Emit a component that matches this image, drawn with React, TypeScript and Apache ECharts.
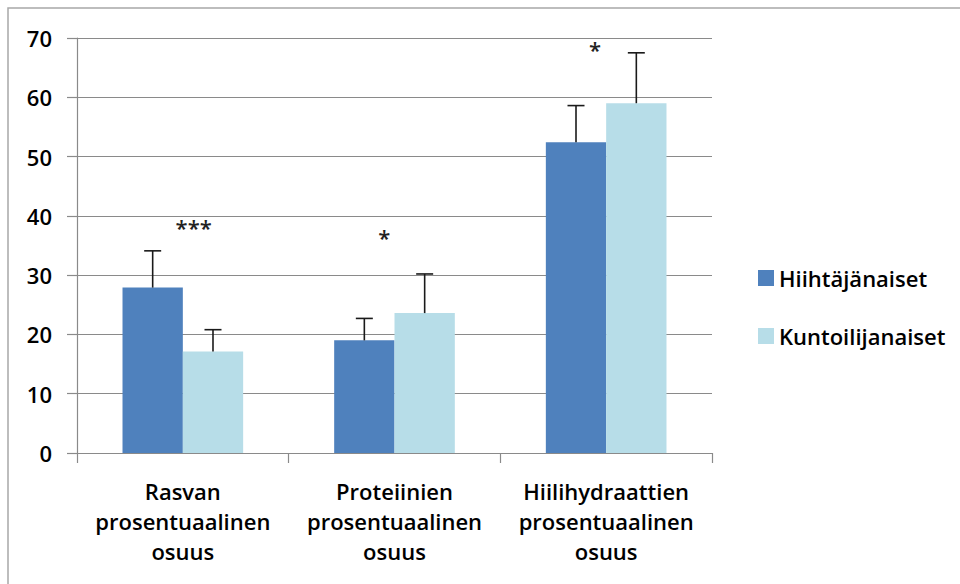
import React, { useEffect, useRef } from "react";
import * as echarts from "echarts";

// Macronutrient shares (% of energy intake), mean and SD for each group
const categories = [
  "Rasvan\nprosentuaalinen\nosuus",
  "Proteiinien\nprosentuaalinen\nosuus",
  "Hiilihydraattien\nprosentuaalinen\nosuus",
];
const seriesNames = ["Hiihtäjänaiset", "Kuntoilijanaiset"];
const skierMeans = [27.9, 19.0, 52.4];
const skierSD = [6.2, 3.7, 6.2];
const exerciserMeans = [17.1, 23.6, 59.0];
const exerciserSD = [3.7, 6.6, 8.5];
const yTicks = { min: 0, max: 70, interval: 10 };

// Significance markers: category index, y value, horizontal nudge in px
// (markPoint on a bar series is anchored at that series' bar centre)
const sigMarks = [
  { cat: 0, y: 38.1, text: "***", dx: 41 },
  { cat: 1, y: 36.5, text: "*", dx: 20 },
  { cat: 2, y: 68.1, text: "*", dx: 19 },
];

const colors = ["#4f81bd", "#b7dde8"];
const gridColor = "#8a8a8a";
const fontFamily = "'Open Sans', sans-serif";
const CATEGORY_GAP = 0.43;

export default function App() {
  const ref = useRef<HTMLDivElement>(null);

  useEffect(() => {
    if (!ref.current) return;
    const chart = echarts.init(ref.current, null, { renderer: "svg" });

    const errData = (means: number[], sds: number[], idx: number) =>
      means.map((m, i) => [i, m, m + sds[i], idx]);

    const renderError = (params: any, api: any) => {
      const cat = api.value(0);
      const seriesIdx = api.value(3);
      const base = api.coord([cat, api.value(1)]);
      const top = api.coord([cat, api.value(2)]);
      const band = api.size([1, 0])[0];
      const barW = (band * (1 - CATEGORY_GAP)) / 2;
      const x = base[0] + (seriesIdx === 0 ? -barW / 2 : barW / 2);
      const cap = 8.5;
      const style = { stroke: "#1a1a1a", lineWidth: 1.6 };
      return {
        type: "group",
        children: [
          { type: "line", shape: { x1: x, y1: base[1], x2: x, y2: top[1] }, style },
          { type: "line", shape: { x1: x - cap, y1: top[1], x2: x + cap, y2: top[1] }, style },
        ],
      };
    };

    chart.setOption({
      animation: false,
      backgroundColor: "#ffffff",
      textStyle: { fontFamily },
      graphic: [
        {
          type: "rect",
          shape: { x: 8, y: 8, width: 980, height: 600 },
          style: { fill: "none", stroke: "#a8a8a8", lineWidth: 1.5 },
          silent: true,
        },
      ],
      grid: { left: 77, right: 248, top: 38, bottom: 131 },
      legend: {
        orient: "vertical",
        left: 753,
        top: 262,
        itemWidth: 16,
        itemHeight: 16,
        itemGap: 36,
        icon: "rect",
        data: seriesNames,
        textStyle: { fontSize: 22, fontWeight: 600, color: "#000", fontFamily },
      },
      xAxis: {
        type: "category",
        data: categories,
        axisLine: { lineStyle: { color: gridColor, width: 1.2 } },
        axisTick: { show: true, length: 10, lineStyle: { color: gridColor, width: 1.2 } },
        axisLabel: {
          interval: 0,
          margin: 23,
          lineHeight: 30,
          fontSize: 22,
          fontWeight: 600,
          color: "#000",
          fontFamily,
        },
      },
      yAxis: {
        type: "value",
        min: yTicks.min,
        max: yTicks.max,
        interval: yTicks.interval,
        axisLine: { show: true, lineStyle: { color: gridColor, width: 1.2 } },
        axisTick: { show: true, length: 10, lineStyle: { color: gridColor, width: 1.2 } },
        splitLine: { lineStyle: { color: gridColor, width: 1.2 } },
        axisLabel: { margin: 25, fontSize: 22, fontWeight: 600, color: "#000", fontFamily },
      },
      series: [
        {
          name: seriesNames[0],
          type: "bar",
          data: skierMeans,
          barGap: "0%",
          barCategoryGap: `${CATEGORY_GAP * 100}%`,
          itemStyle: { color: colors[0] },
          markPoint: {
            symbol: "circle",
            symbolSize: 0,
            data: sigMarks.map((s) => ({
              coord: [s.cat, s.y],
              label: {
                show: true,
                position: "inside",
                formatter: s.text,
                offset: [s.dx, 0],
                fontSize: 22,
                fontWeight: 600,
                color: "#222",
                fontFamily,
              },
            })),
          },
        },
        {
          name: seriesNames[1],
          type: "bar",
          data: exerciserMeans,
          barGap: "0%",
          barCategoryGap: `${CATEGORY_GAP * 100}%`,
          itemStyle: { color: colors[1] },
        },
        {
          type: "custom",
          renderItem: renderError,
          data: errData(skierMeans, skierSD, 0),
          encode: { x: 0, y: [1, 2] },
          z: 5,
          silent: true,
        },
        {
          type: "custom",
          renderItem: renderError,
          data: errData(exerciserMeans, exerciserSD, 1),
          encode: { x: 0, y: [1, 2] },
          z: 5,
          silent: true,
        },
      ],
    });

    return () => chart.dispose();
  }, []);

  return (
    <div
      ref={ref}
      style={{ position: "absolute", left: 0, top: 0, width: 960, height: 584 }}
    />
  );
}
